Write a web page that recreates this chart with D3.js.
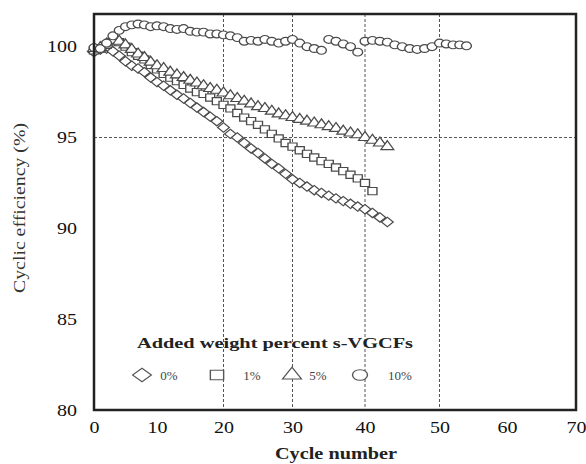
<!DOCTYPE html>
<html>
<head>
<meta charset="utf-8">
<script src="https://cdn.jsdelivr.net/npm/d3@7"></script>
<style>
  body { margin: 0; background: #fff; }
  text { font-family: "Liberation Serif", "Times New Roman", serif; }
</style>
</head>
<body>
<div id="chart"></div>
<script>
// Valeurs (efficacité en %, un point par cycle à partir du cycle 0)
const eff0 = [99.7, 99.85, 99.9, 99.75, 99.5, 99.2, 98.95, 98.8, 98.6, 98.3, 98.05,
  97.85, 97.6, 97.35, 97.15, 96.9, 96.65, 96.4, 96.15, 95.9, 95.55,
  95.2, 95.0, 94.7, 94.4, 94.15, 93.85, 93.55, 93.3, 93.0, 92.7,
  92.5, 92.3, 92.1, 91.95, 91.8, 91.65, 91.5, 91.35, 91.2, 91.05,
  90.85, 90.6, 90.35];
const eff1 = [99.8, 99.9, 100.1, 100.3, 100.25, 100.0, 99.7, 99.5, 99.3, 99.0, 98.75,
  98.5, 98.3, 98.1, 97.9, 97.7, 97.5, 97.4, 97.2, 97.0, 96.8,
  96.6, 96.35, 96.1, 95.9, 95.7, 95.45, 95.2, 94.95, 94.7, 94.5,
  94.3, 94.1, 93.9, 93.7, 93.55, 93.35, 93.15, 92.95, 92.75, 92.5,
  92.05];
const eff5 = [99.9, 99.95, 100.15, 100.35, 100.3, 100.1, 99.85, 99.6, 99.4, 99.15, 98.95,
  98.8, 98.6, 98.45, 98.3, 98.15, 98.0, 97.85, 97.7, 97.6, 97.45,
  97.3, 97.15, 97.0, 96.85, 96.7, 96.6, 96.45, 96.3, 96.2, 96.1,
  96.0, 95.9, 95.8, 95.7, 95.6, 95.5, 95.35, 95.25, 95.15, 95.0,
  94.85, 94.7, 94.5];
const eff10 = [99.95, 99.9, 100.2, 100.6, 100.9, 101.1, 101.2, 101.25, 101.2, 101.1, 101.15,
  101.1, 101.0, 100.95, 101.0, 100.85, 100.8, 100.8, 100.7, 100.7, 100.65,
  100.6, 100.5, 100.3, 100.35, 100.3, 100.4, 100.3, 100.2, 100.3, 100.4,
  100.2, 100.0, 99.9, 99.8, 100.4, 100.3, 100.15, 100.0, 99.7, 100.3,
  100.35, 100.3, 100.25, 100.1, 100.0, 99.9, 99.85, 99.9, 100.0, 100.2,
  100.15, 100.1, 100.1, 100.05];

const seriesNames = ["0%", "1%", "5%", "10%"];
const xTicks = [0, 10, 20, 30, 40, 50, 60, 70];
const yTicks = [80, 85, 90, 95, 100];
const xGrid = [20, 30, 40, 50];
const yGrid = [95];

const width = 586, height = 464;
const mLeft = 94, mRight = 576, mTop = 14, mBottom = 410;

var svg = d3.select("#chart").append("svg")
  .attr("width", width)
  .attr("height", height)
  .style("background", "#fff");

// l'image d'origine est un peu déformée horizontalement : échelle linéaire par morceaux
var x = d3.scaleLinear()
  .domain(xTicks)
  .range([mLeft, 157, 223.5, 292.5, 365, 439.5, 507, mRight]);
var y = d3.scaleLinear().domain([80, 101.8]).range([mBottom, mTop]);

// Grille en pointillés
svg.selectAll(".vgrid").data(xGrid).enter().append("line")
  .attr("x1", function(d){ return x(d) }).attr("x2", function(d){ return x(d) })
  .attr("y1", mTop).attr("y2", mBottom)
  .attr("stroke", "#555").attr("stroke-width", 1).attr("stroke-dasharray", "3,2");
svg.selectAll(".hgrid").data(yGrid).enter().append("line")
  .attr("x1", mLeft).attr("x2", mRight)
  .attr("y1", function(d){ return y(d) }).attr("y2", function(d){ return y(d) })
  .attr("stroke", "#555").attr("stroke-width", 1).attr("stroke-dasharray", "3,2");

// Symboles (le losange est un carré tourné)
var shapes = [
  { type: d3.symbolSquare, size: 44, rot: 45 },
  { type: d3.symbolSquare, size: 52, rot: 0 },
  { type: d3.symbolTriangle, size: 46, rot: 0 },
  { type: d3.symbolCircle, size: 48, rot: 0 }
];
var allSeries = [eff0, eff1, eff5, eff10];

allSeries.forEach(function(values, k) {
  var sh = shapes[k];
  svg.append("g").selectAll("path")
    .data(values)
    .enter()
    .append("path")
    .attr("d", d3.symbol().type(sh.type).size(sh.size))
    .attr("transform", function(d, i){
      return "translate(" + x(i) + "," + y(d) + ") scale(1.25,1) rotate(" + sh.rot + ")";
    })
    .attr("fill", "#fff")
    .attr("stroke", "#4a4a4a")
    .attr("stroke-width", 1.1);
});

// Cadre
svg.append("rect")
  .attr("x", mLeft).attr("y", mTop)
  .attr("width", mRight - mLeft).attr("height", mBottom - mTop)
  .attr("fill", "none").attr("stroke", "#222").attr("stroke-width", 2.5);

// Axes
var gx = svg.append("g")
  .attr("transform", "translate(0," + mBottom + ")")
  .call(d3.axisBottom(x).tickValues(xTicks).tickSize(0).tickPadding(12));
gx.select(".domain").remove();
gx.selectAll("text")
  .attr("font-size", 16).attr("fill", "#111")
  .attr("font-family", "Liberation Serif, serif")
  .attr("textLength", function(d){ return String(d).length * 10 })
  .attr("lengthAdjust", "spacingAndGlyphs");

var gy = svg.append("g")
  .attr("transform", "translate(" + mLeft + ",0)")
  .call(d3.axisLeft(y).tickValues(yTicks).tickSize(0).tickPadding(17));
gy.select(".domain").remove();
gy.selectAll("text")
  .attr("font-size", 16).attr("fill", "#111")
  .attr("font-family", "Liberation Serif, serif")
  .attr("textLength", function(d){ return String(d).length * 10 })
  .attr("lengthAdjust", "spacingAndGlyphs");

// Titres des axes
svg.append("text")
  .attr("x", 336).attr("y", 459)
  .attr("text-anchor", "middle")
  .attr("font-size", 17).attr("font-weight", "bold").attr("fill", "#222")
  .attr("textLength", 122).attr("lengthAdjust", "spacingAndGlyphs")
  .text("Cycle number");

svg.append("text")
  .attr("transform", "translate(25,208) rotate(-90)")
  .attr("text-anchor", "middle")
  .attr("font-size", 16).attr("fill", "#333")
  .attr("textLength", 170).attr("lengthAdjust", "spacingAndGlyphs")
  .text("Cyclic efficiency (%)");

// Légende
svg.append("text")
  .attr("x", 275).attr("y", 348)
  .attr("text-anchor", "middle")
  .attr("font-size", 15).attr("font-weight", "bold").attr("fill", "#222")
  .attr("textLength", 276).attr("lengthAdjust", "spacingAndGlyphs")
  .text("Added weight percent s-VGCFs");

var legendSymX = [142, 217, 292, 360];
var legendTxtX = [169, 252, 318, 400];
var legendShapes = [
  { type: d3.symbolSquare, size: 90, rot: 45 },
  { type: d3.symbolSquare, size: 90, rot: 0 },
  { type: d3.symbolTriangle, size: 80, rot: 0 },
  { type: d3.symbolCircle, size: 90, rot: 0 }
];
var leg = svg.append("g").selectAll("g")
  .data(seriesNames)
  .enter()
  .append("g");
leg.append("path")
  .attr("d", function(d, i){ return d3.symbol().type(legendShapes[i].type).size(legendShapes[i].size)() })
  .attr("transform", function(d, i){
    return "translate(" + legendSymX[i] + ",375) scale(1.4,1) rotate(" + legendShapes[i].rot + ")";
  })
  .attr("fill", "#fff").attr("stroke", "#555").attr("stroke-width", 1);
leg.append("text")
  .attr("x", function(d, i){ return legendTxtX[i] })
  .attr("y", 380)
  .attr("text-anchor", "middle")
  .attr("font-size", 13).attr("fill", "#444")
  .text(function(d){ return d });
</script>
</body>
</html>
